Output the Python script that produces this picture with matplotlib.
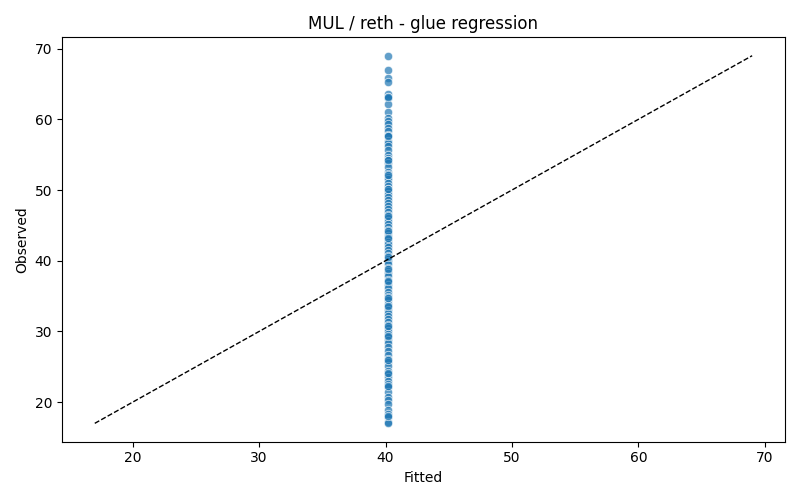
import matplotlib
matplotlib.use("Agg")
import matplotlib.pyplot as plt
import numpy as np

observed = [
    69.0, 67.0, 65.8, 65.3, 63.6, 63.2, 63.0, 62.1, 61.0, 60.2, 59.8, 59.3,
    58.8, 58.3, 57.8, 57.6, 57.0, 56.6, 56.3, 55.6, 55.0, 54.6, 54.2, 53.8,
    53.2, 52.6, 52.3, 51.9, 51.5, 51.0, 50.6, 50.2, 49.8, 49.4, 49.0, 48.6,
    48.1, 47.7, 47.3, 46.9, 46.5, 46.1, 45.6, 45.2, 44.8, 44.3, 43.9, 43.5,
    43.1, 42.7, 42.3, 41.9, 41.5, 41.1, 40.7, 40.3, 39.9, 39.5, 39.0, 38.6,
    38.2, 37.8, 37.3, 37.0, 36.5, 36.1, 35.6, 35.2, 34.8, 34.4, 33.9, 33.5,
    33.1, 32.6, 32.2, 31.8, 31.3, 30.9, 30.5, 30.1, 29.6, 29.2, 28.8, 28.3,
    27.8, 27.3, 26.6, 26.1, 25.7, 25.1, 24.4, 24.0, 23.5, 23.0, 22.6, 22.1,
    21.5, 20.7, 20.3, 19.7, 18.9, 18.3, 17.9, 17.2, 17.0,
    63.1, 57.7, 54.3, 52.1, 50.1, 46.3, 44.2, 43.2, 40.5, 38.8, 37.1,
    34.7, 33.6, 30.8, 29.4, 26.0, 24.1, 22.3, 18.1,
]
fitted_value = 40.2
fitted = [fitted_value] * len(observed)

fig, ax = plt.subplots(figsize=(8, 5), dpi=100)
ax.scatter(fitted, observed, s=36, color="#1f77b4", alpha=0.7,
           edgecolor="white", linewidth=0.6)

lo, hi = min(observed), max(observed)
ax.plot([lo, hi], [lo, hi], "k--", linewidth=1)

ax.set_xlabel("Fitted")
ax.set_ylabel("Observed")
ax.set_title("MUL / reth - glue regression")

fig.tight_layout()
fig.savefig("out.png")
